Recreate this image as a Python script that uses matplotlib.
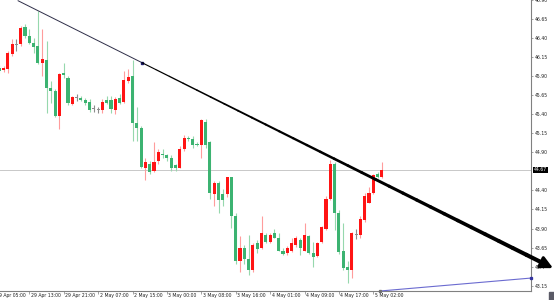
import numpy as np
import matplotlib
matplotlib.use("Agg")
import matplotlib.pyplot as plt
import matplotlib.transforms as mtransforms
from matplotlib.collections import LineCollection
from matplotlib.patches import Rectangle

# H1 bars, bar 0 = 29 Apr 05:00
bars = np.arange(1, 91)

opens = [46.01, 45.98, 46.00, 46.19, 46.31, 46.32, 46.55, 46.43, 46.34, 46.30,
         46.07, 46.11, 45.75, 45.71, 45.38, 45.94, 45.88, 45.54, 45.62, 45.61,
         45.59, 45.56, 45.47, 45.46, 45.45, 45.59, 45.59, 45.45, 45.62, 45.56,
         45.84, 45.90, 45.29, 45.22, 44.70, 44.75, 44.65, 44.78, 44.88, 44.86,
         44.83, 44.73, 44.70, 44.95, 45.09, 45.08, 45.01, 44.99, 45.30, 45.03,
         44.35, 44.50, 44.35, 44.35, 44.57, 44.07, 43.47, 43.65, 43.50, 43.35,
         43.71, 43.64, 43.81, 43.72, 43.84, 43.77, 43.61, 43.58, 43.61, 43.69,
         43.75, 43.61, 43.80, 43.58, 43.54, 43.72, 43.90, 44.29, 44.75, 44.11,
         43.60, 43.39, 43.36, 43.82, 43.81, 44.01, 44.24, 44.36, 44.62, 44.57]

highs = [46.05, 46.03, 46.23, 46.39, 46.39, 46.56, 46.59, 46.52, 46.40, 46.75,
         46.52, 46.36, 45.84, 45.73, 45.94, 46.07, 45.90, 45.64, 45.67, 45.64,
         45.62, 45.60, 45.52, 45.50, 45.60, 45.64, 45.64, 45.63, 45.67, 45.97,
         46.00, 46.11, 45.49, 45.25, 44.82, 44.79, 45.03, 44.95, 44.95, 44.88,
         44.86, 44.75, 44.98, 45.13, 45.12, 45.11, 45.04, 45.34, 45.34, 45.05,
         44.53, 44.53, 44.42, 44.58, 44.58, 44.10, 43.80, 43.68, 43.81, 43.71,
         43.75, 44.07, 43.84, 43.84, 43.90, 43.84, 43.65, 43.67, 43.78, 43.80,
         43.78, 43.97, 43.81, 43.72, 43.72, 43.93, 44.33, 44.80, 44.77, 44.14,
         43.97, 43.48, 43.85, 43.90, 44.06, 44.37, 44.45, 44.62, 44.64, 44.77]

lows = [45.94, 45.96, 45.94, 46.17, 46.23, 46.30, 46.40, 46.32, 46.21, 46.06,
        45.90, 45.42, 45.55, 45.36, 45.21, 45.87, 45.52, 45.52, 45.58, 45.57,
        45.52, 45.43, 45.43, 45.42, 45.42, 45.54, 45.42, 45.41, 45.54, 45.55,
        45.81, 45.05, 45.05, 44.69, 44.54, 44.62, 44.64, 44.75, 44.83, 44.79,
        44.65, 44.66, 44.69, 44.92, 45.05, 44.96, 44.98, 44.83, 44.96, 44.29,
        44.19, 44.11, 44.20, 44.31, 43.91, 43.44, 43.33, 43.44, 43.29, 43.33,
        43.58, 43.63, 43.71, 43.71, 43.77, 43.60, 43.55, 43.55, 43.59, 43.66,
        43.55, 43.60, 43.56, 43.39, 43.52, 43.71, 43.88, 44.27, 43.88, 43.56,
        43.35, 43.18, 43.25, 43.76, 43.78, 43.99, 44.23, 44.35, 44.56, 44.56]

closes = [45.97, 46.01, 46.20, 46.32, 46.31, 46.53, 46.43, 46.34, 46.28, 46.07,
          46.13, 45.75, 45.70, 45.38, 45.93, 45.92, 45.55, 45.63, 45.62, 45.59,
          45.55, 45.46, 45.47, 45.46, 45.56, 45.55, 45.47, 45.60, 45.55, 45.85,
          45.89, 45.29, 45.22, 44.71, 44.77, 44.64, 44.77, 44.90, 44.86, 44.83,
          44.70, 44.70, 44.95, 45.09, 45.07, 44.99, 44.99, 45.32, 44.99, 44.36,
          44.50, 44.27, 44.27, 44.57, 44.07, 43.48, 43.64, 43.50, 43.35, 43.69,
          43.63, 43.84, 43.72, 43.81, 43.78, 43.61, 43.56, 43.65, 43.71, 43.77,
          43.64, 43.81, 43.58, 43.52, 43.71, 43.92, 44.29, 44.75, 44.11, 43.59,
          43.38, 43.36, 43.84, 43.82, 44.03, 44.33, 44.37, 44.60, 44.57, 44.67]

time_labels = ["29 Apr 05:00", "29 Apr 13:00", "29 Apr 21:00", "2 May 07:00",
               "2 May 15:00", "3 May 00:00", "3 May 08:00", "3 May 16:00",
               "4 May 01:00", "4 May 09:00", "4 May 17:00", "5 May 02:00"]
time_label_bars = [0, 8, 16, 24, 32, 40, 48, 56, 64, 72, 80, 88]

price_ticks = [43.15, 43.40, 43.65, 43.90, 44.15, 44.40, 44.90, 45.15,
               45.40, 45.65, 45.90, 46.15, 46.40, 46.65, 46.90]
price_labels = ["43.15", "43.4", "43.65", "43.90", "44.15", "44.40", "44.90", "45.15",
                "45.40", "45.65", "45.90", "46.15", "46.40", "46.65", "46.90"]
current_price = 44.67

# trendline (arrow) anchors: bar, price
trend_x = [5.4, 129.8]
trend_y = [46.89, 43.38]
trend_thick_from = 34.2

# second line at the bottom
blue_x = [89.6, 124.7]
blue_y = [43.08, 43.25]

up_body = "#ff1414"
up_wick = "#ff9c9c"
dn_body = "#3cb371"
dn_wick = "#96d8ad"
flat = "#8c8c8c"
fs = 3.3


def main():
    fig = plt.figure(figsize=(5.54, 3.0), dpi=100)
    ax = fig.add_axes([0, 9 / 300, 531 / 554, 291 / 300])
    ax.set_xlim(1.186, 124.67)
    ax.set_ylim(43.08, 46.90)

    o = np.array(opens)
    h = np.array(highs)
    l = np.array(lows)
    c = np.array(closes)
    up = c > o
    dn = c < o
    wick_colors = np.where(up, up_wick, np.where(dn, dn_wick, flat))
    body_colors = np.where(up, up_body, np.where(dn, dn_body, flat))

    ax.axhline(current_price, color="#c8c8c8", lw=0.7, zorder=0)

    ax.vlines(bars, l, h, colors=wick_colors, lw=0.8, zorder=2)
    bottoms = np.minimum(o, c)
    heights = np.maximum(np.abs(c - o), 0.012)
    ax.bar(bars, heights, bottom=bottoms, width=0.72, color=body_colors,
           edgecolor="none", zorder=3)

    # trendline: thin start, then widening towards arrow head
    ax.plot([trend_x[0], trend_thick_from],
            np.interp([trend_x[0], trend_thick_from], trend_x, trend_y),
            color="#2e2e48", lw=0.7, zorder=4, clip_on=False)
    ax.plot([trend_thick_from], np.interp([trend_thick_from], trend_x, trend_y),
            marker="s", ms=1.6, color="#1c1c6c", zorder=5)
    end_line = trend_x[1] - 3.0
    xs = np.linspace(trend_thick_from, end_line, 30)
    ys = np.interp(xs, trend_x, trend_y)
    segs = np.stack([np.column_stack([xs[:-1], ys[:-1]]),
                     np.column_stack([xs[1:], ys[1:]])], axis=1)
    widths = np.linspace(0.8, 3.0, len(segs))
    lc = LineCollection(segs, colors="black", linewidths=widths,
                        capstyle="round", zorder=6, clip_on=False)
    ax.add_collection(lc)
    ax.annotate("", xy=(trend_x[1], trend_y[1]),
                xytext=(end_line - 0.5, np.interp(end_line - 0.5, trend_x, trend_y)),
                arrowprops=dict(arrowstyle="-|>,head_length=0.9,head_width=0.45",
                                color="black", lw=2.2, mutation_scale=8,
                                shrinkA=0, shrinkB=0),
                annotation_clip=False, zorder=7)

    ax.plot(blue_x, blue_y, color="#6b6bd0", lw=0.8, zorder=4, clip_on=False)
    ax.plot(blue_x[1:], blue_y[1:], marker="s", ms=1.4, color="#3434a0",
            zorder=5, clip_on=False)
    ax.plot(blue_x[:1], blue_y[:1], marker="s", ms=1.4, color="#707070",
            zorder=5, clip_on=False)

    for side in ["top", "left"]:
        ax.spines[side].set_visible(False)
    for side in ["bottom", "right"]:
        ax.spines[side].set_color("#808080")
        ax.spines[side].set_linewidth(0.8)

    ax.yaxis.tick_right()
    ax.set_yticks(price_ticks)
    ax.set_yticklabels(price_labels)
    ax.tick_params(axis="y", labelsize=fs, length=1.5, width=0.5, color="#808080",
                   pad=1.2, labelcolor="#202020")

    inside = [b for b in time_label_bars if b > 1.186]
    ax.set_xticks(inside)
    ax.set_xticklabels([])
    ax.tick_params(axis="x", length=2, width=0.5, color="#808080")
    trans = mtransforms.blended_transform_factory(ax.transData, ax.transAxes)
    for b, lab in zip(time_label_bars, time_labels):
        ax.text(b + 0.35, -0.016, lab, transform=trans, ha="left", va="center",
                fontsize=fs, color="#202020", clip_on=False)

    ytrans = mtransforms.blended_transform_factory(ax.transAxes, ax.transData)
    ax.text(1.006, current_price, f"{current_price:.2f}", transform=ytrans,
            ha="left", va="center", fontsize=fs, color="white",
            bbox=dict(facecolor="black", edgecolor="none", pad=0.5))

    fig.add_artist(Rectangle((549 / 554, 0), 5 / 554, 8 / 300,
                             transform=fig.transFigure, color="#5a5a66"))

    fig.savefig("out.png", dpi=100, facecolor="white")
    plt.close(fig)


if __name__ == "__main__":
    main()
